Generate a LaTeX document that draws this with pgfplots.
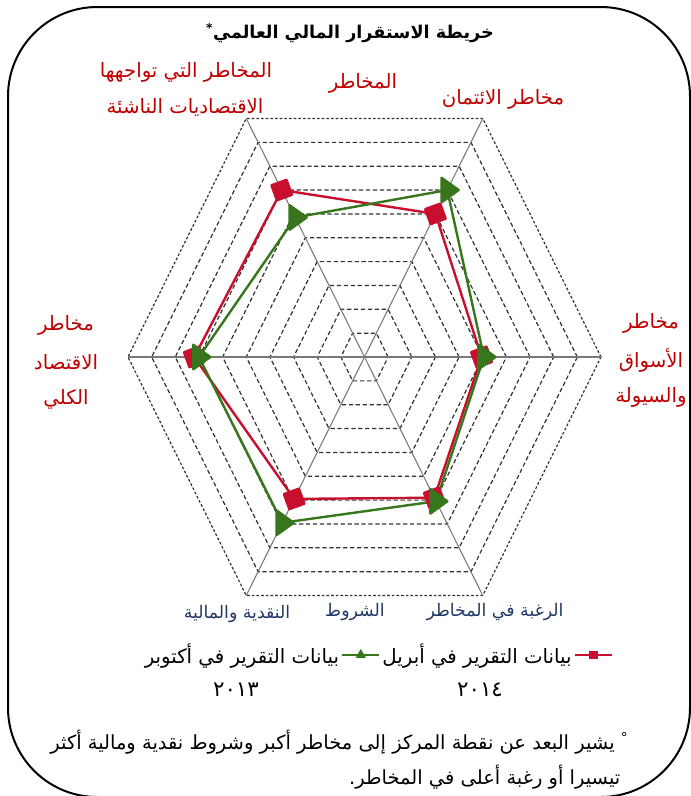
\documentclass[border=0pt]{standalone}
\usepackage{pgfplots}
\pgfplotsset{compat=1.18}
\usepgfplotslibrary{polar}
\usepackage{fontspec}
\TeXXeTstate=1
\newfontfamily\arabicfont[Script=Arabic]{DejaVu Sans}
\definecolor{rred}{RGB}{200,16,46}
\definecolor{ggreen}{RGB}{56,118,29}
\definecolor{labred}{RGB}{192,0,0}
\definecolor{labblue}{RGB}{31,56,100}
\definecolor{gridc}{RGB}{50,50,50}
\definecolor{spoke}{RGB}{120,120,120}
\begin{document}
\begin{tikzpicture}
\path[use as bounding box] (0pt,0pt) rectangle (518.25pt,-597pt);
\begin{axis}[
  at={(273.375pt,-267.75pt)}, anchor=center,
  x=17.7375pt, y=20.655pt,
  xmin=-10.5, xmax=10.5, ymin=-9, ymax=9,
  hide axis, clip=false,
  legend columns=2, legend plot pos=right,
  legend style={at={(0.527,-0.101)}, anchor=center, draw=none, fill=none,
    font=\arabicfont\fontsize{14.8}{17}\selectfont,
    nodes={inner sep=1.5pt}},
  legend image code/.code={\draw[mark repeat=2,mark phase=2,#1] plot coordinates {(0pt,0pt)(14pt,0pt)(28pt,0pt)};},
]
% hexagonal grid
\pgfplotsinvokeforeach{1,...,9}{
\addplot[forget plot, gridc, line width=0.9pt, dash pattern=on 3.2pt off 2pt, data cs=polar]
  coordinates {(0,#1)(60,#1)(120,#1)(180,#1)(240,#1)(300,#1)(360,#1)};
}
\addplot[forget plot, gridc, line width=0.9pt, dash pattern=on 2pt off 1.5pt, data cs=polar]
  coordinates {(0,10)(60,10)(120,10)(180,10)(240,10)(300,10)(360,10)};
% spokes
\addplot[forget plot, spoke, line width=0.8pt, data cs=polar] coordinates {(0,10)(180,10)};
\addplot[forget plot, spoke, line width=0.8pt, data cs=polar] coordinates {(60,10)(240,10)};
\addplot[forget plot, spoke, line width=0.8pt, data cs=polar] coordinates {(120,10)(300,10)};
% April 2014
\addplot[forget plot, rred, line width=1.8pt, line join=round, mark=square*, mark size=6pt,
  mark options={solid, rotate=20}, data cs=polar]
  coordinates {(0,4.95)(60,6.0)(120,7.0)(180,7.2)(240,5.95)(300,5.9)(360,4.95)};
% October 2013
\addplot[forget plot, ggreen, line width=1.8pt, line join=round, mark=triangle*, mark size=8.5pt,
  mark options={solid, rotate=-90, xscale=1.25}, data cs=polar]
  coordinates {(0,5.05)(60,7.0)(120,5.85)(180,7.0)(240,6.95)(300,6.05)(360,5.05)};
\addlegendimage{ggreen, line width=1.5pt, mark=triangle*, mark size=3pt, mark options={solid}}
\addlegendentry{\beginR بيانات التقرير في أكتوبر\endR}
\addlegendimage{rred, line width=1.5pt, mark=square*, mark size=2.5pt, mark options={solid}}
\addlegendentry{\beginR بيانات التقرير في أبريل\endR}
\end{axis}
\begin{scope}[x=0.75pt, y=-0.75pt]
\draw[line width=1.5pt, rounded corners=67pt] (8,7) rectangle (690,797);
\node[font=\arabicfont\bfseries\fontsize{13.2}{16}\selectfont] at (350,33) {\beginR خريطة الاستقرار المالي العالمي\textsuperscript{*}\endR};
\begin{scope}[every node/.style={font=\arabicfont\fontsize{14.8}{17}\selectfont, text=labred}]
\node at (186,72) {\beginR المخاطر التي تواجهها\endR};
\node at (185,107) {\beginR الاقتصاديات الناشئة\endR};
\node at (363,83) {\beginR المخاطر\endR};
\node at (503,99) {\beginR مخاطر الائتمان\endR};
\node at (651,323) {\beginR مخاطر\endR};
\node at (651,360) {\beginR الأسواق\endR};
\node at (651,397) {\beginR والسيولة\endR};
\node at (66,325) {\beginR مخاطر\endR};
\node at (66,362) {\beginR الاقتصاد\endR};
\node at (66,399) {\beginR الكلي\endR};
\end{scope}
\begin{scope}[every node/.style={font=\arabicfont\fontsize{13}{15}\selectfont, text=labblue}]
\node at (495,612) {\beginR الرغبة في المخاطر\endR};
\node at (355,612) {\beginR الشروط\endR};
\node at (237,614) {\beginR النقدية والمالية\endR};
\end{scope}
\node[font=\arabicfont\fontsize{16}{18}\selectfont] at (480,690) {٢٠١٤};
\node[font=\arabicfont\fontsize{16}{18}\selectfont] at (236,690) {٢٠١٣};
\node[font=\arabicfont\fontsize{14.6}{17}\selectfont, anchor=east] at (633,742) {\beginR\textsuperscript{°} يشير البعد عن نقطة المركز إلى مخاطر أكبر  وشروط نقدية ومالية أكثر\endR};
\node[font=\arabicfont\fontsize{14.6}{17}\selectfont, anchor=east] at (625,777) {\beginR تيسيرا أو رغبة أعلى في المخاطر.\endR};
\end{scope}
\end{tikzpicture}
\end{document}
